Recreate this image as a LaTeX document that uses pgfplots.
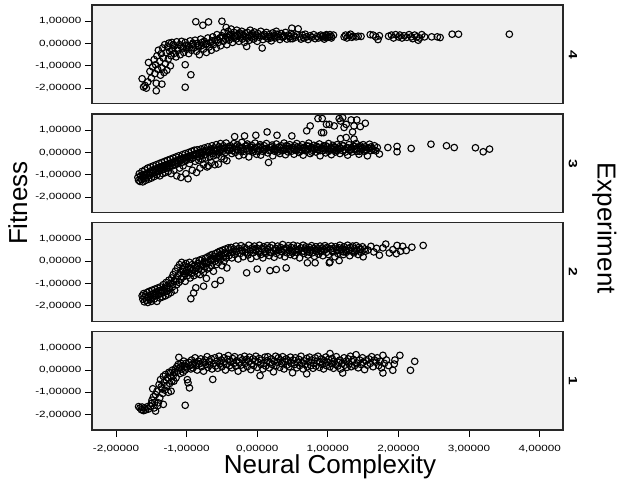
\documentclass[border=0pt]{standalone}
\usepackage{fontspec}
\setmainfont{Liberation Sans}
\newfontfamily\tickfont[FakeStretch=1.3]{Liberation Sans}
\usepackage{pgfplots}
\pgfplotsset{compat=1.18}
\definecolor{panelbg}{RGB}{240,240,240}
\definecolor{framec}{RGB}{40,40,40}
\pgfplotsset{
  panel/.style={
    scale only axis, width=471bp, height=98.5bp,
    xmin=-2.34, xmax=4.33, ymin=-2.69, ymax=1.73,
    anchor=north west,
    axis background/.style={fill=panelbg},
    axis line style={draw=framec, line width=1.3bp},
    ytick={-2,-1,0,1}, ytick pos=left,
    xtick=\empty,
    tick align=outside, major tick length=7bp,
    tick style={black, line width=0.8bp},
    ticklabel style={font=\tickfont\fontsize{9bp}{10bp}\selectfont},
    /pgf/number format/fixed,
    /pgf/number format/fixed zerofill,
    /pgf/number format/precision=5,
    /pgf/number format/use comma,
    /pgf/number format/assume math mode=true,
  },
  dots/.style={only marks, mark=o, mark size=3.3bp, line width=1.1bp, black},
}
\begin{document}
\begin{tikzpicture}
\useasboundingbox (0,0) rectangle (618bp,-480bp);

% Experiment 4
\begin{axis}[panel, at={(92bp,-5bp)}]
\addplot[dots] coordinates {
(-1.63,-1.58) (-1.61,-1.95) (-1.59,-1.88) (-1.57,-2.0) (-1.55,-1.72) (-1.54,-0.85) (-1.52,-1.25) (-1.5,-1.55)
(-1.43,-2.12) (-1.48,-1.05) (-1.46,-0.72) (-1.45,-1.35) (-1.44,-0.95) (-1.43,-1.78) (-1.42,-0.55) (-1.41,-1.15)
(-1.4,-0.3) (-1.35,-1.82) (-1.38,-0.8) (-1.37,-1.42) (-1.36,-0.45) (-1.35,-1.1) (-1.34,-0.2) (-1.33,-0.65)
(-1.32,-1.3) (-1.31,-0.05) (-1.3,-0.9) (-1.29,-0.4) (-1.28,-1.2) (-1.27,-0.15) (-1.26,-0.7) (-1.25,0.02)
(-1.24,-0.35) (-1.23,-1.0) (-1.22,-0.55) (-1.21,0.05) (-1.2,-0.25)
(-1.18,-0.45) (-1.17,-0.1) (-1.15,-0.6) (-1.14,0.08) (-1.12,-0.3) (-1.1,-0.05) (-1.09,-0.5) (-1.07,0.1)
(-1.05,-0.2) (-1.04,-0.4) (-1.02,0.05) (-1.0,-0.25) (-0.98,-0.1) (-0.97,-0.45) (-0.95,0.12) (-0.93,-0.3)
(-0.92,-0.05) (-0.9,-0.2) (-0.88,0.15) (-0.87,0.98) (-0.86,-0.35) (-0.85,0.0) (-0.83,-0.15) (-0.82,-0.5)
(-0.8,0.2) (-0.79,-0.1) (-0.77,0.82) (-0.76,-0.25) (-0.75,0.1) (-0.73,-0.05) (-0.72,-0.4) (-0.7,0.25)
(-0.69,0.97) (-0.68,-0.15) (-0.66,0.05) (-0.65,-0.3) (-0.63,0.3) (-0.62,-0.05) (-0.6,0.15) (-0.58,-0.2)
(-0.57,0.4) (-0.55,0.05) (-0.53,0.25) (-0.52,-0.1) (-0.5,1.0) (-0.5,0.35) (-0.48,0.1) (-0.47,0.5)
(-0.45,0.2) (-0.44,0.72) (-0.43,-0.05) (-1.02,-1.96) (-0.94,-1.4) (-1.02,-0.95)
(-0.42,0.3) (-0.41,0.55) (-0.4,0.15) (-0.38,0.42) (-0.37,0.65) (-0.36,0.25) (-0.35,0.05) (-0.33,0.5)
(-0.32,0.35) (-0.3,0.2) (-0.29,0.6) (-0.28,0.4) (-0.26,0.1) (-0.25,0.48) (-0.24,0.3) (-0.22,0.55)
(-0.21,0.2) (-0.2,0.38) (-0.18,0.05) (-0.17,0.45) (-0.16,0.28) (-0.15,-0.13) (-0.14,0.5) (-0.12,0.35)
(-0.11,0.15) (-0.1,0.6) (-0.08,0.3) (-0.07,0.45) (-0.05,0.2) (-0.04,0.52) (-0.02,0.38) (0.0,0.1)
(0.01,0.45) (0.03,0.28) (0.05,0.55) (0.06,0.35) (0.07,-0.2) (0.08,0.18) (0.1,0.42) (0.12,0.3)
(0.13,0.5) (0.15,0.22) (0.17,0.4) (0.18,0.32) (0.2,0.12) (0.22,0.48) (0.24,0.35) (0.25,0.25)
(0.27,0.55) (0.29,0.3) (0.3,0.4) (0.32,0.18) (0.34,0.45) (0.36,0.28) (0.38,0.35) (0.4,0.5)
(0.42,0.2) (0.44,0.38) (0.46,0.3) (0.48,0.45) (0.49,0.69) (0.5,0.22) (0.52,0.35) (0.54,0.28)
(0.56,0.4) (0.58,0.66) (0.6,0.3) (0.62,0.2) (0.64,0.38) (0.66,0.25) (0.68,0.42) (0.7,0.3)
(0.72,0.18) (0.75,0.35) (0.77,0.28) (0.8,0.4) (0.82,0.22) (0.85,0.32) (0.87,0.25) (0.9,0.38)
(0.92,0.3) (0.95,0.2) (0.97,0.35) (1.0,0.28) (1.03,0.4) (1.05,0.32)
(0.93,0.35) (0.96,0.28) (0.98,0.4) (1.02,0.3) (1.05,0.25) (1.08,0.38)
(1.23,0.3) (1.25,0.38) (1.27,0.25) (1.3,0.35) (1.32,0.42) (1.34,0.28) (1.36,0.33) (1.4,0.3) (1.43,0.33) (1.47,0.32)
(1.6,0.4) (1.64,0.38) (1.68,0.3) (1.71,0.18) (1.73,0.35)
(1.86,0.33) (1.9,0.38) (1.93,0.25) (1.96,0.4) (2.0,0.3) (2.02,0.38) (2.05,0.25) (2.08,0.35) (2.12,0.28)
(2.15,0.4) (2.18,0.3) (2.2,0.22) (2.23,0.38) (2.26,0.3) (2.28,0.15) (2.3,0.25) (2.33,0.4) (2.37,0.3)
(2.47,0.3) (2.55,0.3) (2.59,0.27) (2.76,0.42) (2.85,0.42) (3.57,0.42)
(-1.19,-0.05) (-1.13,-0.2) (-1.08,-0.12) (-1.01,-0.08) (-0.96,-0.18) (-0.91,0.02) (-0.84,-0.08) (-0.78,0.05)
(-0.71,0.0) (-0.64,0.12) (-0.56,0.18) (-0.49,0.28) (-0.39,0.35) (-0.31,0.3) (-0.23,0.42) (-0.13,0.25)
(-0.03,0.3) (0.09,0.35) (0.19,0.25) (0.28,0.42) (0.37,0.3) (0.47,0.22)
};
\end{axis}

% Experiment 3
\begin{axis}[panel, at={(92bp,-113.9bp)}]
\addplot[dots] coordinates {
(-1.69,-1.12) (-1.68,-1.25) (-1.67,-0.95) (-1.66,-1.3) (-1.65,-1.05) (-1.64,-1.2) (-1.63,-0.85) (-1.62,-1.32)
(-1.61,-1.0) (-1.6,-1.15) (-1.59,-0.78) (-1.58,-1.25) (-1.57,-0.95) (-1.56,-1.1) (-1.55,-0.7) (-1.54,-1.2)
(-1.53,-0.88) (-1.52,-1.02) (-1.51,-0.65) (-1.5,-1.15) (-1.49,-0.8) (-1.48,-0.95) (-1.47,-0.6) (-1.46,-1.08)
(-1.45,-0.75) (-1.44,-0.9) (-1.43,-0.55) (-1.42,-1.0) (-1.41,-0.7) (-1.4,-0.85) (-1.39,-0.5) (-1.38,-1.05)
(-1.37,-0.65) (-1.36,-0.8) (-1.35,-0.45) (-1.34,-0.95) (-1.33,-0.6) (-1.32,-0.75) (-1.31,-0.4) (-1.3,-0.9)
(-1.29,-0.55) (-1.28,-0.7) (-1.27,-0.35) (-1.26,-0.85) (-1.25,-0.5) (-1.24,-0.65) (-1.23,-0.3) (-1.22,-0.95)
(-1.21,-0.45) (-1.2,-0.6) (-1.19,-0.25) (-1.18,-0.8) (-1.17,-0.4) (-1.16,-0.55) (-1.15,-0.2) (-1.14,-1.05)
(-1.13,-0.35) (-1.12,-0.5) (-1.11,-0.15) (-1.1,-0.7) (-1.09,-0.3) (-1.08,-1.12) (-1.07,-0.45) (-1.06,-0.1)
(-1.05,-0.6) (-1.04,-0.25) (-1.03,-0.4) (-1.02,-0.05) (-1.01,-0.95) (-1.0,-0.35) (-0.99,-0.2) (-0.98,-1.18)
(-0.97,0.0) (-0.96,-0.5) (-0.95,-0.15) (-0.94,-0.3) (-0.93,0.05) (-0.92,-0.8) (-0.91,-0.25) (-0.9,-0.1)
(-0.89,0.1) (-0.88,-0.4) (-0.87,-0.05) (-0.86,-0.9) (-0.85,0.12) (-0.84,-0.2) (-0.83,-0.35) (-0.82,0.0)
(-0.81,-0.7) (-0.8,0.15) (-0.79,-0.15) (-0.78,-0.3) (-0.77,0.05) (-0.76,-0.55) (-0.75,0.2) (-0.74,-0.1)
(-0.73,-0.25) (-0.72,0.1) (-0.71,-0.65) (-0.7,0.25) (-0.69,-0.6) (-0.68,0.0) (-0.67,-0.2) (-0.66,0.15)
(-0.65,-0.45) (-0.64,0.3) (-0.63,-0.05) (-0.62,-0.15) (-0.61,0.2) (-0.6,-0.55) (-0.59,0.05) (-0.58,0.35)
(-0.57,-0.1) (-0.56,0.1) (-0.55,-0.52) (-0.54,0.25) (-0.53,0.0) (-0.52,0.4) (-0.51,-0.2) (-0.5,0.15)
(-0.49,0.05) (-0.48,0.3) (-0.47,-0.3) (-0.46,0.2) (-0.45,0.0) (-0.44,0.42) (-0.43,-0.37) (-0.42,0.1) (-0.41,0.25)
(-1.62,-1.08) (-1.57,-1.02) (-1.52,-0.92) (-1.47,-0.85) (-1.42,-0.78) (-1.37,-0.72) (-1.32,-0.62) (-1.27,-0.58)
(-1.22,-0.5) (-1.17,-0.45) (-1.12,-0.38) (-1.07,-0.3) (-1.02,-0.25) (-0.97,-0.2) (-0.92,-0.12) (-0.87,-0.1)
(-0.82,-0.05) (-0.77,0.0) (-0.72,0.05) (-0.67,0.08) (-0.62,0.1) (-0.57,0.12) (-0.52,0.15) (-0.47,0.18)
(-0.40,0.10) (-0.38,0.30) (-0.36,-0.05) (-0.35,0.20) (-0.33,0.40) (-0.32,0.71) (-0.31,0.00) (-0.29,0.15)
(-0.28,0.35) (-0.26,-0.15) (-0.25,0.25) (-0.23,0.05) (-0.22,0.45) (-0.20,0.12) (-0.19,-0.10) (-0.18,0.74)
(-0.17,0.28) (-0.15,0.18) (-0.14,0.38) (-0.12,-0.20) (-0.11,0.08) (-0.09,0.22) (-0.08,0.32) (-0.06,0.02)
(-0.05,0.15) (-0.03,0.42) (-0.02,0.77) (-0.01,-0.08) (0.01,0.25) (0.02,0.10) (0.04,0.35) (0.05,-0.12)
(0.07,0.20) (0.08,0.05) (0.10,0.30) (0.11,0.15) (0.13,0.40) (0.14,0.92) (0.15,-0.02) (0.16,-0.45)
(0.18,0.22) (0.19,0.10) (0.21,0.33) (0.22,-0.15) (0.24,0.18) (0.25,0.05) (0.27,0.38) (0.28,0.77)
(0.29,0.12) (0.31,0.25) (0.32,-0.05) (0.34,0.30) (0.35,0.08) (0.37,0.20) (0.38,0.42) (0.40,-0.10)
(0.41,0.15) (0.43,0.28) (0.44,0.02) (0.46,0.35) (0.47,0.12) (0.49,0.74) (0.50,0.22) (0.52,-0.08)
(0.53,0.30) (0.55,0.10) (0.56,0.40) (0.58,0.18) (0.59,0.00) (0.61,0.25) (0.62,0.12) (0.64,0.35)
(0.65,-0.12) (0.67,0.20) (0.68,0.08) (0.70,0.97) (0.70,0.30) (0.72,0.15) (0.73,0.42) (0.75,1.19)
(0.75,-0.05) (0.77,0.22) (0.78,0.10) (0.80,0.32) (0.81,0.18) (0.83,0.02) (0.84,0.28) (0.86,1.52)
(0.86,0.12) (0.88,0.38) (0.89,-0.15) (0.91,0.89) (0.91,0.20) (0.92,1.52) (0.93,0.08) (0.94,0.30)
(0.96,0.15) (0.97,-0.02) (0.98,1.26) (0.99,0.25) (1.01,0.40) (1.02,1.26) (1.02,0.10) (1.04,0.20)
(1.05,-0.10) (1.07,0.32) (1.08,0.12) (1.09,1.19) (1.10,0.22) (1.11,0.02) (1.13,0.35) (1.14,0.15)
(1.16,1.52) (1.16,0.25) (1.17,-0.05) (1.18,1.41) (1.18,0.62) (1.19,0.18) (1.21,1.56) (1.21,0.08)
(1.22,0.30) (1.23,1.12) (1.24,0.12) (1.26,1.26) (1.26,0.67) (1.27,0.22) (1.28,-0.12) (1.30,0.35)
(1.31,0.10) (1.33,1.46) (1.33,0.20) (1.34,0.02) (1.35,0.92) (1.36,0.28) (1.37,1.19) (1.37,0.60)
(1.38,0.15) (1.40,0.40) (1.41,1.46) (1.41,0.05) (1.43,0.22) (1.44,-0.08) (1.46,1.16) (1.46,0.30)
(1.47,0.12) (1.49,0.18) (1.50,0.35) (1.52,0.05) (1.53,1.31) (1.53,0.25) (1.55,0.12) (1.56,-0.15)
(1.58,0.20) (1.59,0.37) (1.61,0.08) (1.63,0.15) (1.66,0.30) (1.68,0.07) (1.70,0.22) (1.73,-0.07)
(0.94,0.89) (1.85,0.22) (1.98,0.27) (1.98,0.03) (2.18,0.18) (2.46,0.37) (2.68,0.30) (2.79,0.22)
(3.09,0.21) (3.20,0.03) (3.29,0.15)
(-0.39,0.18) (-0.35,0.08) (-0.31,0.25) (-0.27,0.12) (-0.23,0.2) (-0.19,0.05) (-0.15,0.3) (-0.11,0.15)
(-0.07,0.1) (-0.03,0.22) (0.01,0.05) (0.05,0.28) (0.09,0.12) (0.13,0.18) (0.17,0.08) (0.21,0.25)
(0.25,0.15) (0.29,0.02) (0.33,0.2) (0.37,0.1) (0.41,0.3) (0.45,0.18) (0.49,0.06) (0.53,0.15)
(0.57,0.25) (0.61,0.05) (0.65,0.2) (0.69,0.12) (0.73,0.28) (0.77,0.02) (0.81,0.15) (0.85,0.22)
(0.89,0.08) (0.93,0.18) (0.97,0.3) (1.01,0.05) (1.05,0.15) (1.09,0.25) (1.13,0.08) (1.17,0.18)
(1.21,0.3) (1.25,0.02) (1.29,0.2) (1.33,0.12) (1.37,0.28) (1.41,0.15) (1.45,0.05) (1.49,0.22)
(1.53,0.1) (1.57,0.18) (1.61,0.25) (1.65,0.12)
};
\end{axis}

% Experiment 2
\begin{axis}[panel, at={(92bp,-222.7bp)}]
\addplot[dots] coordinates {
(-1.63,-1.55) (-1.62,-1.7) (-1.61,-1.45) (-1.6,-1.82) (-1.59,-1.6) (-1.58,-1.5) (-1.57,-1.75) (-1.56,-1.4)
(-1.55,-1.85) (-1.54,-1.62) (-1.53,-1.35) (-1.52,-1.72) (-1.51,-1.5) (-1.5,-1.8) (-1.49,-1.3) (-1.48,-1.6)
(-1.47,-1.45) (-1.46,-1.7) (-1.45,-1.25) (-1.44,-1.55) (-1.43,-1.38) (-1.42,-1.8) (-1.41,-1.2) (-1.4,-1.5)
(-1.39,-1.32) (-1.38,-1.65) (-1.37,-1.15) (-1.36,-1.45) (-1.35,-1.28) (-1.34,-1.6) (-1.33,-1.05) (-1.32,-1.4)
(-1.31,-1.2) (-1.3,-1.55) (-1.29,-0.95) (-1.28,-1.35) (-1.27,-1.1) (-1.26,-1.48) (-1.25,-0.85) (-1.24,-1.25)
(-1.23,-1.0) (-1.22,-1.4) (-1.21,-0.75) (-1.2,-1.15) (-1.19,-0.6) (-1.18,-0.9) (-1.17,-1.3) (-1.16,-0.45)
(-1.15,-0.8) (-1.14,-1.05) (-1.13,-0.3) (-1.12,-0.65) (-1.11,-0.95) (-1.1,-0.15) (-1.09,-0.5) (-1.08,-0.8)
(-1.07,-0.05) (-1.06,-0.35) (-1.05,-0.7) (-1.04,-0.2) (-1.03,-0.55) (-1.02,-0.9) (-1.01,-0.1) (-1.0,-0.4)
(-0.99,-0.65) (-0.98,-0.25) (-0.97,-0.5) (-0.96,-0.05) (-0.95,-0.75) (-0.94,-1.68) (-0.94,-0.3) (-0.93,-0.55)
(-0.92,-0.15) (-0.91,-0.4) (-0.9,-1.42) (-0.9,-0.65) (-0.89,-0.2) (-0.88,-0.45) (-0.87,-1.19) (-0.87,0.0)
(-0.86,-0.3) (-0.85,-0.55) (-0.84,-0.1) (-0.83,-0.35) (-0.82,0.05) (-0.81,-0.6) (-0.8,-0.2) (-0.79,-0.4)
(-0.78,0.1) (-0.77,-0.15) (-0.76,-1.12) (-0.76,-0.5) (-0.75,0.0) (-0.74,-0.25) (-0.73,0.15) (-0.72,-0.77)
(-0.72,-0.1) (-0.71,-0.35) (-0.7,0.2) (-0.69,-0.05) (-0.68,-0.3) (-0.67,0.25) (-0.66,0.05) (-0.65,-0.2)
(-0.64,0.3) (-0.63,0.1) (-0.62,-0.45) (-0.61,0.2) (-0.6,-1.04) (-0.6,0.0) (-0.59,0.35) (-0.58,-0.15)
(-0.57,0.15) (-0.56,0.4) (-0.55,-0.05) (-0.54,0.25) (-0.53,0.45) (-0.52,-0.86) (-0.52,0.1) (-0.51,0.3)
(-0.5,-0.2) (-0.49,0.5) (-0.48,0.2) (-0.47,0.0) (-0.46,0.4) (-0.45,0.55) (-0.44,0.15) (-0.43,-0.3)
(-0.42,0.35) (-0.41,0.6)
(-0.40,0.25) (-0.39,0.50) (-0.37,0.62) (-0.36,0.15) (-0.35,0.40) (-0.33,0.55) (-0.32,0.30) (-0.30,0.68)
(-0.29,0.45) (-0.27,0.10) (-0.26,0.58) (-0.24,0.35) (-0.23,0.70) (-0.21,0.48) (-0.20,0.20) (-0.18,0.62)
(-0.17,0.40) (-0.15,-0.52) (-0.15,0.55) (-0.13,0.28) (-0.12,0.72) (-0.10,0.45) (-0.09,0.12) (-0.07,0.60)
(-0.06,0.38) (-0.04,0.68) (-0.03,0.50) (-0.01,0.22) (0.00,-0.35) (0.00,0.58) (0.02,0.42) (0.03,0.72)
(0.05,0.30) (0.06,0.55) (0.08,0.15) (0.09,0.65) (0.11,0.45) (0.12,0.35) (0.14,0.70) (0.15,0.52)
(0.17,0.25) (0.18,-0.42) (0.18,0.62) (0.20,0.40) (0.21,0.72) (0.23,0.48) (0.24,0.18) (0.26,0.58)
(0.27,-0.37) (0.27,0.35) (0.29,0.68) (0.30,0.50) (0.32,0.28) (0.33,0.62) (0.35,0.42) (0.36,0.75)
(0.38,0.55) (0.39,0.20) (0.41,-0.30) (0.41,0.60) (0.42,0.38) (0.44,0.70) (0.45,0.48) (0.47,0.30)
(0.48,0.62) (0.50,0.45) (0.51,0.72) (0.53,0.25) (0.54,0.55) (0.56,0.40) (0.57,0.68) (0.59,0.50)
(0.60,0.15) (0.62,0.60) (0.63,0.42) (0.65,0.72) (0.66,0.35) (0.68,0.55) (0.69,0.65) (0.71,-0.07)
(0.71,0.45) (0.72,0.28) (0.74,0.62) (0.75,0.50) (0.77,0.70) (0.78,0.38) (0.80,0.58) (0.81,0.22)
(0.82,-0.07) (0.83,0.65) (0.84,0.45) (0.86,0.55) (0.87,0.32) (0.89,0.68) (0.90,0.48) (0.92,0.60)
(0.93,0.25) (0.95,0.52) (0.96,0.70) (0.98,0.40) (0.99,0.62) (1.01,0.30) (1.02,-0.07) (1.03,-0.03)
(1.04,0.55) (1.05,0.68) (1.07,0.42) (1.08,0.58) (1.10,0.20) (1.11,0.65) (1.13,0.48) (1.14,0.35)
(1.16,0.03) (1.16,0.60) (1.17,0.72) (1.19,0.45) (1.20,0.55) (1.22,0.30) (1.23,0.65) (1.25,0.50)
(1.26,0.40) (1.28,0.72) (1.29,0.58) (1.31,0.25) (1.32,0.62) (1.34,0.45) (1.35,0.68) (1.37,0.38)
(1.38,0.55) (1.40,0.70) (1.41,0.48) (1.43,0.30) (1.44,0.62) (1.46,0.52) (1.47,0.40) (1.49,0.65)
(1.50,0.20) (1.52,0.55) (1.53,0.45)
(1.61,0.67) (1.57,0.5) (1.65,0.42) (1.69,0.58) (1.73,0.27) (1.78,0.60) (1.82,0.77) (1.87,0.37)
(1.92,0.52) (1.98,0.71) (1.97,0.34) (2.03,0.45) (2.06,0.67) (2.11,0.48) (2.19,0.63) (2.35,0.71)
(-0.3,0.42) (-0.22,0.5) (-0.14,0.38) (-0.06,0.52) (0.02,0.46) (0.1,0.55) (0.18,0.4) (0.26,0.5)
(0.34,0.45) (0.42,0.55) (0.5,0.38) (0.58,0.52) (0.66,0.45) (0.74,0.4) (0.82,0.5) (0.9,0.42)
(0.98,0.55) (1.06,0.48) (1.14,0.52) (1.22,0.42) (1.3,0.48) (1.38,0.45) (1.46,0.55)
(-1.55,-1.62) (-1.45,-1.5) (-1.35,-1.35) (-1.25,-1.2) (-1.15,-0.9) (-1.05,-0.45) (-0.95,-0.35)
(-0.85,-0.2) (-0.75,-0.05) (-0.65,0.1) (-0.55,0.2) (-0.45,0.35)
};
\end{axis}

% Experiment 1
\begin{axis}[panel, at={(92bp,-331.5bp)}, xtick={-2,-1,0,1,2,3,4}, xtick pos=left,
  xticklabel style={yshift=-5bp}]
\addplot[dots] coordinates {
(-1.68,-1.64) (-1.66,-1.7) (-1.64,-1.78) (-1.63,-1.66) (-1.61,-1.82) (-1.6,-1.7) (-1.58,-1.79) (-1.56,-1.65)
(-1.54,-1.75) (-1.51,-1.62) (-1.5,-1.5) (-1.49,-1.35) (-1.48,-0.84) (-1.47,-1.2) (-1.46,-1.7) (-1.45,-1.45)
(-1.44,-1.84) (-1.44,-1.1) (-1.42,-0.95) (-1.41,-1.6) (-1.4,-1.47) (-1.39,-0.65) (-1.38,-1.25) (-1.37,-0.43)
(-1.36,-0.75) (-1.35,-0.84) (-1.34,-1.05) (-1.33,-1.54) (-1.33,-0.28) (-1.32,-0.55) (-1.31,-0.9) (-1.3,-0.2)
(-1.29,-0.45) (-1.28,-0.7) (-1.27,-0.35) (-1.26,-1.0) (-1.25,-0.1) (-1.24,-0.6) (-1.23,-0.13) (-1.22,-0.95)
(-1.22,-0.3) (-1.21,-0.5) (-1.2,0.0) (-1.19,-0.25) (-1.18,-0.5) (-1.17,-0.1) (-1.16,0.05) (-1.15,-0.35)
(-1.14,0.15) (-1.13,-0.05) (-1.12,0.25) (-1.11,0.57) (-1.1,0.1) (-1.09,-0.15) (-1.08,0.3) (-1.07,0.05)
(-1.06,0.2) (-1.05,-0.1) (-1.04,0.4) (-1.03,0.15) (-1.02,-1.58) (-1.02,0.0) (-1.01,0.3) (-1.0,0.1)
(-0.99,-0.43) (-0.98,-0.57) (-0.97,0.35) (-0.96,-0.8) (-0.95,0.2) (-0.94,0.05) (-0.93,0.45) (-0.92,0.25)
(-0.91,0.10) (-0.89,0.35) (-0.88,0.55) (-0.86,0.20) (-0.85,0.00) (-0.83,0.40) (-0.82,0.28) (-0.80,0.50)
(-0.79,0.15) (-0.77,0.35) (-0.76,-0.05) (-0.74,0.45) (-0.73,0.25) (-0.71,0.60) (-0.70,0.12) (-0.68,0.38)
(-0.67,0.22) (-0.65,0.50) (-0.64,0.05) (-0.63,-0.42) (-0.62,0.30) (-0.60,0.55) (-0.59,0.18) (-0.57,0.40)
(-0.56,0.08) (-0.54,0.62) (-0.53,0.28) (-0.51,0.45) (-0.50,0.15) (-0.48,0.35) (-0.47,0.55) (-0.45,0.00)
(-0.44,0.25) (-0.42,0.48) (-0.41,0.65) (-0.39,0.20) (-0.38,0.38) (-0.36,0.10) (-0.35,0.52) (-0.33,0.30)
(-0.32,0.60) (-0.30,0.18) (-0.29,0.42) (-0.27,-0.05) (-0.26,0.35) (-0.24,0.55) (-0.23,0.22) (-0.21,0.45)
(-0.20,0.08) (-0.18,0.62) (-0.17,0.30) (-0.15,0.48) (-0.14,0.15) (-0.12,0.38) (-0.11,0.58) (-0.09,0.02)
(-0.08,0.28) (-0.06,0.50) (-0.05,0.20) (-0.03,0.40) (-0.02,0.62) (0.00,0.12) (0.01,0.35) (0.03,0.52)
(0.04,-0.25) (0.05,0.25) (0.06,0.45) (0.08,0.05) (0.09,0.30) (0.11,0.58) (0.12,0.18) (0.14,0.42)
(0.15,0.60) (0.17,0.10) (0.18,0.32) (0.20,0.50) (0.21,0.25) (0.23,-0.08) (0.24,0.40) (0.26,0.62)
(0.27,0.20) (0.29,0.35) (0.30,0.55) (0.32,0.12) (0.33,0.45) (0.35,0.28) (0.36,0.60) (0.38,0.05)
(0.39,0.38) (0.41,0.50) (0.42,0.22) (0.44,0.42) (0.45,0.15) (0.47,0.58) (0.48,0.30) (0.50,-0.12)
(0.51,0.45) (0.53,0.25) (0.54,0.55) (0.56,0.10) (0.57,0.35) (0.59,0.48) (0.60,0.20) (0.62,0.62)
(0.63,0.32) (0.65,0.05) (0.66,0.42) (0.68,0.25) (0.70,-0.17) (0.70,0.52) (0.71,0.15) (0.73,0.38)
(0.74,0.58) (0.76,0.20) (0.77,0.45) (0.79,0.08) (0.80,0.30) (0.82,0.55) (0.83,0.18) (0.85,0.40)
(0.86,0.62) (0.88,0.12) (0.89,0.35) (0.91,0.50) (0.92,0.25) (0.94,0.05) (0.95,0.42) (0.97,0.58)
(0.98,0.20) (1.00,0.35) (1.01,0.48) (1.03,0.74) (1.03,0.15) (1.05,0.30) (1.06,0.52) (1.08,0.08)
(1.09,0.40) (1.11,0.25) (1.12,0.60) (1.14,0.18) (1.15,0.35) (1.17,0.45) (1.18,0.05) (1.20,0.30)
(1.21,-0.13) (1.23,0.55) (1.24,0.22) (1.26,0.40) (1.27,0.12) (1.29,0.50) (1.30,0.28) (1.32,0.62)
(1.33,0.15) (1.35,0.38) (1.36,0.48) (1.38,0.20) (1.40,0.69) (1.41,0.32) (1.43,0.10) (1.45,0.45)
(1.47,0.25) (1.49,0.55) (1.50,0.35) (1.52,0.02) (1.54,0.42) (1.56,0.22) (1.58,0.50) (1.60,0.30)
(1.62,0.60) (1.64,0.15) (1.66,0.45) (1.68,0.35) (1.70,0.55) (1.72,0.20) (1.74,0.40) (1.76,0.10)
(1.78,0.66) (1.78,-0.13) (1.80,0.30) (1.83,0.45) (1.86,0.20) (1.92,-0.01) (1.94,0.27) (1.95,0.45)
(2.02,0.66) (2.17,-0.01) (2.23,0.39)
};
\end{axis}

\node[rotate=90, anchor=base, font=\fontsize{26bp}{30bp}\selectfont] at (27bp,-203bp) {Fitness};
\node[rotate=-90, anchor=base, font=\fontsize{26bp}{30bp}\selectfont] at (597.5bp,-228bp) {Experiment};
\node[anchor=base, font=\fontsize{26bp}{30bp}\selectfont] at (330bp,-473.5bp) {Neural Complexity};
\foreach \lab/\yy in {4/55, 3/163.5, 2/272, 1/381}
  \node[rotate=-90, font=\tickfont\bfseries\fontsize{12bp}{13bp}\selectfont] at (573bp,-\yy bp) {\lab};
\end{tikzpicture}
\end{document}
